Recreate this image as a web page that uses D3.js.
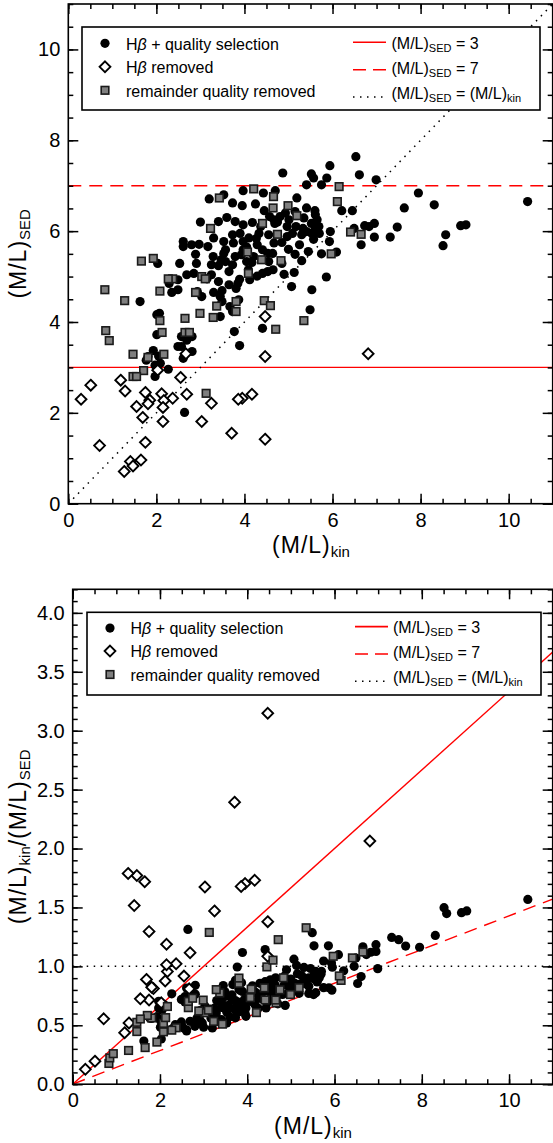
<!DOCTYPE html>
<html><head><meta charset="utf-8">
<script src="https://cdn.jsdelivr.net/npm/d3@7"></script>
<style>
body{margin:0;background:#fff}
svg{display:block}
text{font-family:"Liberation Sans",Arial,Helvetica,sans-serif}
</style>
</head><body>
<svg id="c" width="553" height="1143"></svg>
<script>
// ---------------- DATA ----------------
// H-beta + quality selection: (M/L)kin and (M/L)SED
const selKin = [6.53,6.61,6.99,5.94,5.87,5.75,5.52,5.57,5.41,4.87,3.97,4.43,4.70,5.19,7.95,3.53,3.20,10.43,
3.73,3.95,5.41,5.15,4.93,6.21,6.45,7.63,8.31,5.61,5.65,5.52,5.33,5.17,4.97,5.09,4.97,5.30,5.53,5.61,5.69,5.57,
4.67,4.69,4.57,4.37,4.33,4.27,4.29,4.67,4.55,4.53,4.55,4.65,4.53,4.41,4.29,4.17,4.09,4.12,3.89,3.81,3.79,3.97,
3.93,4.05,3.97,3.75,3.73,3.79,3.97,4.18,3.53,3.53,3.47,3.29,3.25,3.41,3.57,3.73,3.41,3.49,3.45,3.65,3.67,3.73,
3.87,3.45,3.41,2.97,2.89,2.91,2.61,2.61,2.53,2.69,2.85,2.49,2.29,2.49,2.93,3.03,2.03,1.63,2.07,2.01,2.01,2.57,
2.57,2.61,2.81,2.81,1.93,2.05,1.77,2.09,2.27,1.97,3.77,3.89,4.41,5.07,5.13,5.15,4.85,4.64,5.53,5.49,5.86,5.75,
5.93,5.95,6.09,6.49,6.65,6.73,6.95,6.95,6.83,7.31,7.47,8.51,8.57,8.91,9.03,5.35,5.01,4.81,5.41,4.41,4.21,4.05,
3.57,3.17,3.25,3.65,3.85,3.49,2.49,2.69,1.97,1.81,2.64,4.75,4.85,5.00,5.25,5.45,5.60,4.45,4.25,3.60,3.90,4.10,
3.30,2.80,3.00,2.35,3.30,3.15,4.90,5.30,5.70];
const selSed = [7.64,7.24,7.13,7.44,7.17,7.02,7.26,7.17,7.02,7.28,6.89,6.84,6.89,6.73,6.84,6.80,6.71,6.65,
6.62,6.56,6.51,6.43,6.40,6.45,6.45,6.51,6.58,6.36,6.25,6.17,6.06,6.10,6.10,5.95,5.88,5.92,5.95,6.06,6.10,5.82,
6.25,6.17,6.32,6.10,5.95,5.84,5.70,5.74,5.92,5.51,5.33,5.15,5.11,5.07,5.01,5.31,5.15,4.93,4.94,4.74,5.44,5.59,
5.48,5.65,5.77,5.74,5.92,6.21,6.14,6.19,5.77,5.51,5.37,5.44,5.26,5.24,5.33,5.26,4.89,4.69,4.56,4.82,4.34,4.23,
4.49,4.12,6.21,5.71,5.49,5.29,5.77,5.66,5.29,5.04,5.07,4.93,4.85,4.71,4.67,4.56,5.29,4.45,4.19,4.16,3.72,3.68,
3.46,3.20,3.68,3.35,3.37,3.25,3.16,3.09,2.96,2.80,3.79,3.48,3.86,4.78,5.09,5.49,5.29,5.51,4.71,4.27,4.99,5.50,
5.77,5.99,5.54,6.06,5.70,6.12,6.17,5.87,6.10,5.87,6.09,5.68,5.92,6.12,6.14,6.29,6.25,6.32,5.99,5.59,5.44,5.33,
5.59,5.66,5.04,5.11,4.85,4.45,3.46,3.60,3.05,3.24,2.01,6.20,5.75,5.60,5.70,5.55,6.45,6.45,6.60,6.30,5.95,5.85,
5.85,5.70,6.20,4.65,4.65,4.95,5.05,5.35,5.95];

// H-beta removed
const remKin = [4.47,4.47,6.81,2.67,2.03,2.55,1.19,0.51,1.29,1.75,2.12,2.69,2.37,4.17,3.95,3.86,0.29,1.55,1.85,1.81,
2.17,2.15,1.69,2.15,3.03,3.25,3.71,4.47,0.71,1.75,1.65,1.41,1.47,1.27];
const remSed = [4.12,3.24,3.30,3.30,2.94,2.78,2.72,2.61,2.48,2.45,2.42,2.41,2.32,2.41,2.32,2.30,2.30,2.14,2.28,2.20,
2.27,2.12,1.90,1.81,1.81,2.21,1.55,1.42,1.28,1.35,0.96,0.93,0.83,0.71];

// remainder quality removed
const qualKin = [3.43,4.21,4.66,6.15,6.11,4.65,4.99,5.19,3.23,4.41,4.75,4.07,4.39,4.83,4.09,3.03,3.11,2.37,2.27,2.89,
2.08,1.66,1.93,0.83,1.28,3.81,3.81,3.37,4.45,4.59,2.99,2.65,3.29,2.08,5.35,0.85,0.93,2.13,2.65,2.75,4.71,1.47,1.81,
2.17,1.71,1.47,1.55,5.97,6.41,6.65,3.13];
const qualSed = [6.73,6.93,6.76,6.98,6.65,6.51,6.56,6.34,6.06,6.17,5.93,5.54,5.37,5.35,5.07,5.00,4.95,4.95,4.95,4.65,
4.68,5.34,5.40,4.71,4.47,4.45,4.23,4.35,4.47,4.36,4.19,4.08,4.10,4.03,4.03,3.81,3.59,3.77,3.77,3.77,3.84,3.29,3.22,
3.29,2.93,2.80,2.80,5.50,5.98,5.93,2.43];

// reference lines
const sedLow = 3, sedHigh = 7;

// ticks
const xMajor = [0,2,4,6,8,10];
const xTickLabels = ["0","2","4","6","8","10"];
const yTopMajor = [0,2,4,6,8,10];
const yTopLabels = ["0","2","4","6","8","10"];
const yBotMajor = [0,0.5,1,1.5,2,2.5,3,3.5,4];
const yBotLabels = ["0.0","0.5","1.0","1.5","2.0","2.5","3.0","3.5","4.0"];

const legendMarkerLabels = ["quality selection","removed","remainder quality removed"];

// ---------------- DRAW ----------------
const svg = d3.select("#c");
const FONT = '"Liberation Sans", Arial, Helvetica, sans-serif';

function sub(t, main, s, size) {
  // appends main text then subscript
  t.append("tspan").text(main);
  t.append("tspan").attr("font-size", size).attr("dy", size*0.33).text(s);
  t.append("tspan").attr("dy", -size*0.33).text("");
}

function drawMarker(g, type, cx, cy) {
  if (type === "circle") {
    g.append("circle").attr("cx", cx).attr("cy", cy).attr("r", 4.6).attr("fill", "#000");
  } else if (type === "diamond") {
    const h = 5.4;
    g.append("path").attr("d", `M${cx},${cy-h}L${cx+h},${cy}L${cx},${cy+h}L${cx-h},${cy}Z`)
      .attr("fill", "#fff").attr("stroke", "#000").attr("stroke-width", 1.9);
  } else {
    const s = 7.6;
    g.append("rect").attr("x", cx-s/2).attr("y", cy-s/2).attr("width", s).attr("height", s)
      .attr("fill", "#7f7f7f").attr("stroke", "#1a1a1a").attr("stroke-width", 1.6);
  }
}

function panel(cfg) {
  const g = svg.append("g");
  const x = d3.scaleLinear().domain([0, 11]).range([cfg.left, cfg.right]);
  const y = d3.scaleLinear().domain([0, cfg.ymax]).range([cfg.bottom, cfg.top]);
  const clipId = "clip" + cfg.id;
  svg.append("clipPath").attr("id", clipId).append("rect")
    .attr("x", cfg.left).attr("y", cfg.top).attr("width", cfg.right-cfg.left).attr("height", cfg.bottom-cfg.top);

  const plot = g.append("g").attr("clip-path", `url(#${clipId})`);
  const line = d3.line().x(d => x(d[0])).y(d => y(d[1]));
  const xs = [0, 11];
  // reference lines
  plot.append("path").attr("d", line(xs.map(v => [v, cfg.lineSolid(v)])))
    .attr("fill", "none").attr("stroke", "#ff0000").attr("stroke-width", 1.4);
  plot.append("path").attr("d", line(xs.map(v => [v, cfg.lineDash(v)])))
    .attr("fill", "none").attr("stroke", "#ff0000").attr("stroke-width", 1.4).attr("stroke-dasharray", "13,8");
  plot.append("path").attr("d", line(xs.map(v => [v, cfg.lineDot(v)])))
    .attr("fill", "none").attr("stroke", "#000").attr("stroke-width", 1.5).attr("stroke-dasharray", "1.5,5.5");

  // points
  const pts = plot.append("g");
  selKin.forEach((k, i) => drawMarker(pts, "circle", x(k), y(cfg.val(k, selSed[i]))));
  remKin.forEach((k, i) => drawMarker(pts, "diamond", x(k), y(cfg.val(k, remSed[i]))));
  qualKin.forEach((k, i) => drawMarker(pts, "square", x(k), y(cfg.val(k, qualSed[i]))));

  // legend
  const L = cfg.leg;
  const lg = g.append("g");
  lg.append("rect").attr("x", L.x).attr("y", L.y).attr("width", L.w).attr("height", L.h)
    .attr("fill", "#fff").attr("stroke", "#000").attr("stroke-width", 1.6);
  const types = ["circle", "diamond", "square"];
  types.forEach((tp, i) => {
    const bl = L.y + L.rowsL[i];
    drawMarker(lg, tp, L.x + 23, bl - 6.2);
    const t = lg.append("text").attr("x", L.x + L.txL).attr("y", bl).attr("font-size", 16);
    if (i < 2) {
      t.append("tspan").text("H");
      t.append("tspan").attr("font-style", "italic").text("β");
      t.append("tspan").text(" " + (i === 0 ? "+ " : "") + legendMarkerLabels[i]);
    } else {
      t.text(legendMarkerLabels[i]);
    }
  });
  const styles = [{c:"#ff0000", d:null, off:6.2, w:1.6}, {c:"#ff0000", d:"13,7", off:3.8, w:1.6}, {c:"#000", d:"1.5,5.5", off:1.5, w:1.6}];
  const rightTexts = [" = 3", " = 7", " = "];
  styles.forEach((st, i) => {
    const bl = L.y + L.rowsR[i];
    const ln = lg.append("line").attr("x1", L.x + L.l1).attr("x2", L.x + L.l2)
      .attr("y1", bl - st.off).attr("y2", bl - st.off)
      .attr("stroke", st.c).attr("stroke-width", st.w);
    if (st.d) ln.attr("stroke-dasharray", st.d);
    const t = lg.append("text").attr("x", L.x + L.txR).attr("y", bl).attr("font-size", 16);
    t.append("tspan").text("(M/L)");
    t.append("tspan").attr("font-size", 11).attr("dy", 3.5).text("SED");
    t.append("tspan").attr("dy", -3.5).text(rightTexts[i]);
    if (i === 2) {
      t.append("tspan").text("(M/L)");
      t.append("tspan").attr("font-size", 11).attr("dy", 3.5).text("kin");
    }
  });

  // frame
  g.append("rect").attr("x", cfg.left).attr("y", cfg.top).attr("width", cfg.right-cfg.left).attr("height", cfg.bottom-cfg.top)
    .attr("fill", "none").attr("stroke", "#000").attr("stroke-width", 1.6);

  // axes
  function style(ax) {
    ax.select(".domain").remove();
    ax.selectAll(".tick line").attr("stroke", "#000").attr("stroke-width", 1.5);
    ax.selectAll("text").attr("font-size", 20).attr("font-family", FONT).attr("fill", "#000");
    ax.attr("font-family", null).attr("font-size", null);
  }
  const xMinor = d3.range(0, 11.001, 0.5);
  const yMinor = d3.range(0, cfg.ymax + 0.0001, cfg.yMinorStep);
  style(g.append("g").attr("transform", `translate(0,${cfg.bottom})`)
    .call(d3.axisBottom(x).tickValues(xMinor).tickSize(-5).tickSizeOuter(0).tickFormat("")));
  style(g.append("g").attr("transform", `translate(0,${cfg.bottom})`)
    .call(d3.axisBottom(x).tickValues(xMajor).tickSize(-10).tickSizeOuter(0).tickPadding(9).tickFormat((d, i) => xTickLabels[i])));
  style(g.append("g").attr("transform", `translate(0,${cfg.top})`)
    .call(d3.axisTop(x).tickValues(xMinor).tickSize(-5).tickSizeOuter(0).tickFormat("")));
  style(g.append("g").attr("transform", `translate(0,${cfg.top})`)
    .call(d3.axisTop(x).tickValues(xMajor).tickSize(-10).tickSizeOuter(0).tickFormat("")));
  style(g.append("g").attr("transform", `translate(${cfg.left},0)`)
    .call(d3.axisLeft(y).tickValues(yMinor).tickSize(-5).tickSizeOuter(0).tickFormat("")));
  style(g.append("g").attr("transform", `translate(${cfg.left},0)`)
    .call(d3.axisLeft(y).tickValues(cfg.yMajor).tickSize(-10).tickSizeOuter(0).tickPadding(8).tickFormat((d, i) => cfg.yLabels[i])));
  style(g.append("g").attr("transform", `translate(${cfg.right},0)`)
    .call(d3.axisRight(y).tickValues(yMinor).tickSize(-5).tickSizeOuter(0).tickFormat("")));
  style(g.append("g").attr("transform", `translate(${cfg.right},0)`)
    .call(d3.axisRight(y).tickValues(cfg.yMajor).tickSize(-10).tickSizeOuter(0).tickFormat("")));

  // x title
  const xt = g.append("text").attr("x", cfg.xTitleX).attr("y", cfg.xTitleY).attr("text-anchor", "middle")
    .attr("font-size", 23).attr("letter-spacing", 1);
  xt.append("tspan").text("(M/L)");
  xt.append("tspan").attr("font-size", 15).attr("letter-spacing", 0).attr("dy", 4).text("kin");

  // y title
  const yt = g.append("text").attr("transform", `translate(${cfg.yTitleX},${(cfg.top+cfg.bottom)/2}) rotate(-90)`)
    .attr("text-anchor", "middle").attr("font-size", 23).attr("letter-spacing", 1);
  cfg.yTitle(yt);
}

// Top panel: (M/L)SED vs (M/L)kin
panel({
  id: "top", left: 68.3, right: 552.7, top: 4, bottom: 503.7, ymax: 11,
  yMajor: yTopMajor, yLabels: yTopLabels, yMinorStep: 0.5,
  val: (k, s) => s,
  lineSolid: v => sedLow, lineDash: v => sedHigh, lineDot: v => v,
  leg: {x: 82, y: 27, w: 458, h: 83, rowsL: [22.5, 46, 69.5], rowsR: [21.5, 46.5, 71.5],
        txL: 44, l1: 271, l2: 304, txR: 309.5},
  xTitleX: 311, xTitleY: 553, yTitleX: 26,
  yTitle: t => {
    t.append("tspan").text("(M/L)");
    t.append("tspan").attr("font-size", 15).attr("letter-spacing", 0).attr("dy", 4).text("SED");
  }
});

// Bottom panel: (M/L)kin/(M/L)SED vs (M/L)kin
panel({
  id: "bot", left: 72.7, right: 552.7, top: 589.3, bottom: 1084.2, ymax: 4.2,
  yMajor: yBotMajor, yLabels: yBotLabels, yMinorStep: 0.1,
  val: (k, s) => k / s,
  lineSolid: v => v / sedLow, lineDash: v => v / sedHigh, lineDot: v => 1,
  leg: {x: 87, y: 612.3, w: 454, h: 82.7, rowsL: [22, 45, 68.4], rowsR: [20.5, 45.5, 70.5],
        txL: 43.5, l1: 268, l2: 301, txR: 306},
  xTitleX: 313, xTitleY: 1134, yTitleX: 26,
  yTitle: t => {
    t.append("tspan").text("(M/L)");
    t.append("tspan").attr("font-size", 15).attr("letter-spacing", 0).attr("dy", 4).text("kin");
    t.append("tspan").attr("dy", -4).text("/(M/L)");
    t.append("tspan").attr("font-size", 15).attr("letter-spacing", 0).attr("dy", 4).text("SED");
  }
});
</script>
</body></html>
